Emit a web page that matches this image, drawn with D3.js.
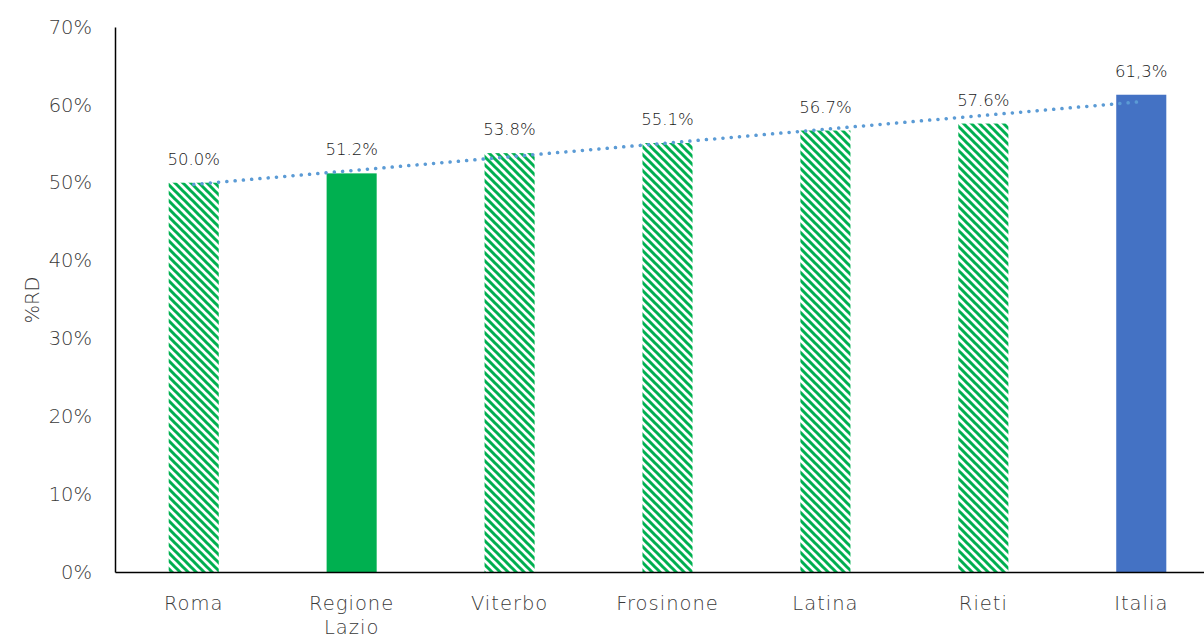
<!DOCTYPE html>
<html><head><meta charset="utf-8">
<script src="https://cdn.jsdelivr.net/npm/d3@7/dist/d3.min.js"></script>
<style>
html,body{margin:0;padding:0;background:#fff;overflow:hidden}
text{font-family:"Century Gothic","DejaVu Sans",sans-serif;font-weight:200}
</style></head>
<body><svg id="c" width="1204" height="641"></svg>
<script>
const categories = ["Roma", "Regione\nLazio", "Viterbo", "Frosinone", "Latina", "Rieti", "Italia"];
const values = [50.0, 51.2, 53.8, 55.1, 56.7, 57.6, 61.3];
const valueLabels = ["50.0%", "51.2%", "53.8%", "55.1%", "56.7%", "57.6%", "61,3%"];
const barStyles = ["hatch", "solid", "hatch", "hatch", "hatch", "hatch", "blue"];
const yTicks = [0, 10, 20, 30, 40, 50, 60, 70];
const yTitle = "%RD";

const svg = d3.select("#c");
const m = {left:115, top:27, bottom:572, right:1220};
const x = d3.scaleBand().domain(categories).range([m.left, m.right]).paddingInner(0.683).paddingOuter(0.34);
const y = d3.scaleLinear().domain([0,70]).range([m.bottom, m.top]);

const defs = svg.append("defs");
const P = 8;
const pat = defs.append("pattern").attr("id","hatch").attr("patternUnits","userSpaceOnUse")
  .attr("width",P).attr("height",P);
pat.append("rect").attr("width",P).attr("height",P).attr("fill","#fff");
pat.append("path").attr("d",`M-2,-2 L${P+2},${P+2} M${-P/2-2},${P/2-2} L${P/2+2},${P+P/2+2} M${P/2-2},${-P/2-2} L${P+P/2+2},${P/2+2}`)
  .attr("stroke","#00B050").attr("stroke-width",3);

const fillFor = s => s==="hatch" ? "url(#hatch)" : s==="solid" ? "#00B050" : "#4472C4";

svg.append("g").selectAll("rect").data(values).join("rect")
  .attr("x",(d,i)=>x(categories[i])).attr("width",x.bandwidth())
  .attr("y",d=>y(d)).attr("height",d=>y(0)-y(d))
  .attr("fill",(d,i)=>fillFor(barStyles[i]));

// linear trendline (least squares over category index)
const n = values.length;
const idx = values.map((d,i)=>i+1);
const mx = d3.mean(idx), my = d3.mean(values);
const slope = d3.sum(idx,(xi,i)=>(xi-mx)*(values[i]-my))/d3.sum(idx,xi=>(xi-mx)**2);
const icpt = my - slope*mx;
const cx = i => x(categories[i]) + x.bandwidth()/2;
svg.append("line")
  .attr("x1",cx(0)).attr("y1",y(icpt+slope*1))
  .attr("x2",cx(n-1)).attr("y2",y(icpt+slope*n))
  .attr("stroke","#5B9BD5").attr("stroke-width",3.5).attr("stroke-linecap","round")
  .attr("stroke-dasharray","0.1 8.2");

// axes
const yAxis = svg.append("g").attr("transform",`translate(${m.left},0)`)
  .call(d3.axisLeft(y).tickValues(yTicks).tickSize(0).tickPadding(23).tickFormat(d=>d+"%"));
yAxis.select(".domain").attr("stroke","#000").attr("stroke-width",1.5);
yAxis.selectAll("text").attr("fill","#3a3a3a").attr("font-size",19.5).attr("font-family",null);

const xAxis = svg.append("g").attr("transform",`translate(0,${m.bottom})`)
  .call(d3.axisBottom(x).tickSize(0).tickFormat(""));
xAxis.select(".domain").attr("stroke","#000").attr("stroke-width",1.5);
xAxis.selectAll(".tick").each(function(d){
  const t = d3.select(this).append("text").attr("fill","#3a3a3a").attr("font-size",19.5)
    .attr("letter-spacing",1).attr("text-anchor","middle");
  d.split("\n").forEach((line,k)=>t.append("tspan").attr("x",0).attr("y",38+k*24).text(line));
});

// value labels
svg.append("g").selectAll("text").data(values).join("text")
  .attr("x",(d,i)=>cx(i)).attr("y",d=>y(d)-18)
  .attr("text-anchor","middle").attr("fill","#1a1a1a").attr("font-size",16.5)
  .text((d,i)=>valueLabels[i]);

// y title
svg.append("text").attr("transform","translate(39,300) rotate(-90)")
  .attr("text-anchor","middle").attr("fill","#3a3a3a").attr("font-size",19.5).text(yTitle);
</script></body></html>
